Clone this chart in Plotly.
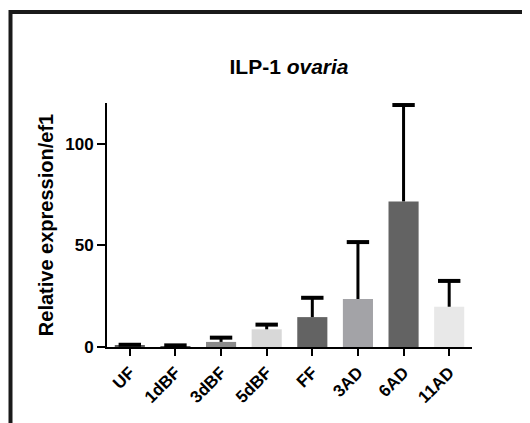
import plotly.graph_objects as go

categories = ["UF", "1dBF", "3dBF", "5dBF", "FF", "3AD", "6AD", "11AD"]
means = [0.7, 0.4, 2.5, 8.7, 14.7, 23.6, 71.6, 19.8]
upper = [1.1, 0.8, 4.6, 11.0, 24.2, 51.6, 119.0, 32.5]
colors = ["#5f5f5f", "#5f5f5f", "#8a8a8a", "#d8d8d8", "#636363", "#a3a3a7", "#636363", "#e8e8e8"]
err_plus = [u - m for u, m in zip(upper, means)]

W, H = 530, 423
OFF = 8  # page body margin in the browser
# target positions in the screenshot
L_px, R_px, T_px, B_px = 107, 472, 103, 347
ml, mt = L_px - OFF, T_px - OFF
mr = W - (R_px - OFF)
mb = H - (B_px - OFF)
pw, ph = W - ml - mr, H - mt - mb

font = "Liberation Sans, Arial, sans-serif"

fig = go.Figure()
fig.add_trace(go.Bar(
    x=categories, y=means,
    marker=dict(color=colors, line=dict(width=0)),
    width=0.66,
    error_y=dict(type="data", symmetric=False, array=err_plus,
                 arrayminus=[0] * len(means), color="black",
                 thickness=3, width=0),
))
fig.add_trace(go.Scatter(
    x=categories, y=upper, mode="markers",
    marker=dict(symbol="line-ew", size=16, line=dict(width=4, color="black")),
    hoverinfo="skip",
))

def px_x(p):
    return (p - OFF - ml) / pw

def px_y(p):
    return (H - mb - (p - OFF)) / ph

fig.add_shape(type="rect", xref="paper", yref="paper",
              x0=px_x(10.5), x1=px_x(570), y0=px_y(12), y1=px_y(470),
              line=dict(color="#1a1a1a", width=4))

fig.update_layout(
    width=W, height=H,
    margin=dict(l=ml, r=mr, t=mt, b=mb, autoexpand=False),
    paper_bgcolor="white", plot_bgcolor="white",
    showlegend=False,
    title=dict(text="<b>ILP-1 <i>ovaria</i></b>", x=(289 - OFF) / W,
               xanchor="center", y=1 - (67 - OFF) / H, yanchor="middle",
               font=dict(family=font, size=21, color="black")),
)
fig.update_xaxes(
    range=[-0.5, 7.5], showline=True, linecolor="black", linewidth=2,
    ticks="outside", ticklen=7, tickwidth=2, tickcolor="black",
    tickangle=-45, showgrid=False, zeroline=False,
    tickfont=dict(family=font, size=17, color="black", weight="bold"),
)
fig.update_yaxes(
    range=[0, 120], showline=True, linecolor="black", linewidth=2,
    ticks="outside", ticklen=8, tickwidth=2, tickcolor="black",
    tickvals=[0, 50, 100], showgrid=False, zeroline=False,
    tickfont=dict(family=font, size=17, color="black", weight="bold"),
    title=dict(text="<b>Relative expression/ef1</b>", standoff=6,
               font=dict(family=font, size=20, color="black")),
)

fig.write_html("out.html")
